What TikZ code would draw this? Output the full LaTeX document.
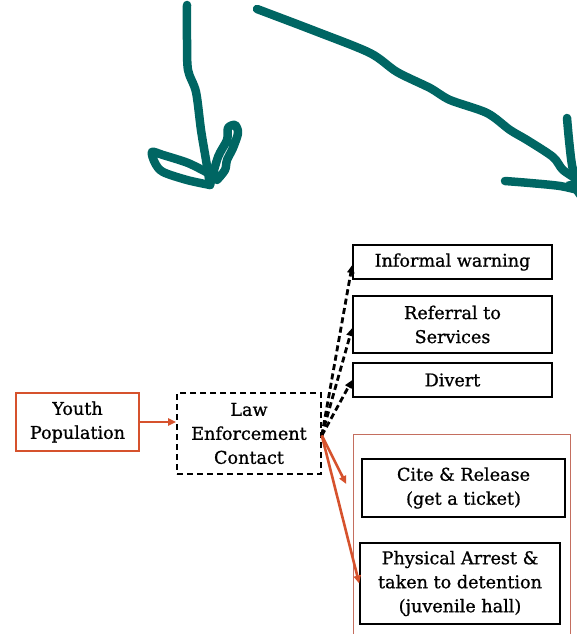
\documentclass[tikz,border=0pt]{standalone}
\usepackage{fontspec}
\setmainfont[FakeBold=0.9]{DejaVu Serif}
\usetikzlibrary{arrows.meta}
\definecolor{penteal}{RGB}{0,102,99}
\definecolor{flowred}{RGB}{214,82,45}
\definecolor{grpred}{RGB}{196,110,95}
\tikzset{
  box/.style={draw=black, line width=1.6pt, rectangle, inner sep=0pt, align=center,
    font=\fontsize{17.6}{24}\selectfont},
  redbox/.style={box, draw=flowred},
  dashbox/.style={box, dash pattern=on 6pt off 4pt},
  grp/.style={draw=grpred, line width=1pt, rectangle, inner sep=0pt},
  redflow/.style={draw=flowred, line width=2.6pt, -{Triangle[length=8pt,width=7pt]}},
  dashflow/.style={draw=black, line width=2.8pt, dash pattern=on 6pt off 3.5pt,
    -{Triangle[length=8pt,width=7pt]}},
  ink/.style={draw=penteal, line width=8.5pt, line cap=round, line join=round}
}
\begin{document}
\begin{tikzpicture}[x=1pt,y=-1pt]
\useasboundingbox (0,0) rectangle (577,634);

% handwritten teal arrows
\draw[ink] plot[smooth] coordinates {(187,5) (187,40) (188,70) (196,92) (201,130) (206,160) (210,185)};
\draw[ink] plot[smooth] coordinates {(210,185) (187,180) (163,172) (155,163) (152,152) (163,155) (188,163) (208,173)};
\draw[ink] plot[smooth] coordinates {(210,185) (218,157) (227,140) (228,128) (235,125) (238,133) (233,148) (227,160) (225,170) (217,180)};

\draw[ink] plot[smooth] coordinates {(257,9) (315,31) (370,53) (397,72) (430,88) (450,100) (487,113) (510,130) (527,140) (553,157) (563,170) (580,181)};
\draw[ink] plot[smooth] coordinates {(505,181) (530,183) (560,186) (582,191)};
\draw[ink] plot[smooth] coordinates {(567,118) (569,140) (572,165) (577,185)};
\fill[penteal] (566,182) -- (580,178) -- (580,202) -- cycle;

% container of the formal outcomes
\node[grp, minimum width=217pt, minimum height=210pt] (group) at (461.5,539) {};

% boxes
\node[redbox, minimum width=123pt, minimum height=58pt] (yp) at (77.5,422) {Youth\\Population};
\node[dashbox, minimum width=144pt, minimum height=81pt] (lec) at (249,433.5) {Law\\Enforcement\\Contact};
\node[box, minimum width=199pt, minimum height=34pt] (warn) at (452.5,262) {Informal warning};
\node[box, minimum width=199pt, minimum height=57pt] (refer) at (452.5,324.5) {Referral to\\Services};
\node[box, minimum width=199pt, minimum height=34pt] (divert) at (452.5,380) {Divert};
\node[box, minimum width=203pt, minimum height=58pt] (cite) at (463.5,488) {Cite \& Release\\(get a ticket)};
\node[box, minimum width=200pt, minimum height=81pt] (arrest) at (460,583.5) {Physical Arrest \&\\taken to detention\\(juvenile hall)};

% connectors
\draw[redflow] (yp.east) -- (yp.east -| lec.west);
\draw[dashflow] ([yshift=-2pt]lec.east) -- ([yshift=-3pt]warn.west);
\draw[dashflow] ([yshift=-2pt]lec.east) -- ([yshift=-3.5pt]refer.west);
\draw[dashflow] ([yshift=-2pt]lec.east) -- (divert.west);
\draw[redflow] ([yshift=-2pt]lec.east) -- ([xshift=-15pt,yshift=4pt]cite.west);
\draw[redflow] ([yshift=-2pt]lec.east) -- (arrest.west);
\end{tikzpicture}
\end{document}
